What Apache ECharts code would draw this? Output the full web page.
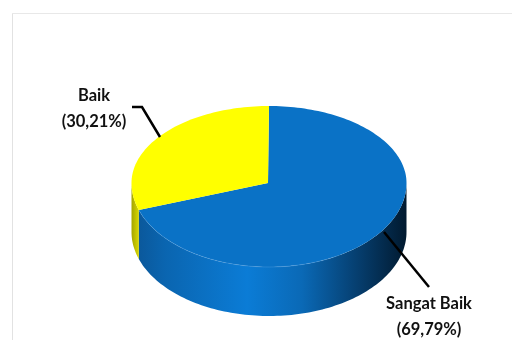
<!DOCTYPE html>
<html>
<head>
<meta charset="utf-8">
<style>html,body{margin:0;padding:0;background:#fff}#c{width:512px;height:340px}</style>
<script src="https://cdn.jsdelivr.net/npm/echarts@6/dist/echarts.min.js"></script>
</head>
<body>
<div id="c"></div>
<script>
const categories = ['Sangat Baik', 'Baik'];
const shares = [69.79, 30.21];

// Geometry of the tilted disc: the near half looks deeper than the far half
const CX = 269, CY = 183, RX = 137.5, RY_FAR = 77, RY_NEAR = 84, DEPTH = 49;
const APEX = [268, 183];
const FONT = 'Lato, "Open Sans", sans-serif';

const total = shares.reduce((a, b) => a + b, 0);
const rad = d => d * Math.PI / 180;
const rim = (deg, dy) => {
  const c = Math.cos(rad(deg));
  return [CX + RX * Math.sin(rad(deg)), CY + dy - (c > 0 ? RY_FAR : RY_NEAR) * c];
};
const arc = (from, to, dy) => {
  const pts = [];
  const n = Math.max(2, Math.ceil(Math.abs(to - from) / 1.5));
  for (let i = 0; i <= n; i++) pts.push(rim(from + (to - from) * i / n, dy));
  return pts;
};
const sideFill = stops => ({
  type: 'linear', x: 132, y: 0, x2: 406, y2: 0, global: true,
  colorStops: stops
});
const styles = [
  {
    top: '#0a72c6',
    side: sideFill([
      { offset: 0, color: '#0b5596' }, { offset: 0.12, color: '#0a65b0' },
      { offset: 0.42, color: '#0b7cd6' }, { offset: 0.62, color: '#0a69b6' },
      { offset: 0.82, color: '#063f70' }, { offset: 1, color: '#011a30' }
    ])
  },
  { top: '#ffff00', side: sideFill([{ offset: 0, color: '#a8a800' }, { offset: 0.02, color: '#cfcf00' }]) }
];
// Label anchor and leader path for each slice
const callouts = [
  { at: [429, 317], line: [[384, 232], [429, 287]] },
  { at: [94, 109], line: [[132, 107], [142, 107], [160, 137]] }
];

function sliceStart(i) {
  let sum = 0;
  for (let k = 0; k < i; k++) sum += shares[k];
  return sum / total * 360;
}

function renderSlice(params, api) {
  const i = params.dataIndex;
  const from = sliceStart(i);
  const to = from + api.value(1) / total * 360;
  const children = [];
  // Only the front half of the rim has a visible wall
  const wFrom = Math.max(from, 90), wTo = Math.min(to, 270);
  if (wTo > wFrom) {
    children.push({
      type: 'polygon',
      shape: { points: arc(wFrom, wTo, 0).concat(arc(wTo, wFrom, DEPTH)) },
      style: { fill: styles[i].side }
    });
  }
  children.push({
    type: 'polygon',
    shape: { points: [APEX].concat(arc(from, to, 0)) },
    style: { fill: styles[i].top }
  });
  if (i === 0) {
    children.push({
      type: 'polyline',
      shape: { points: arc(150, wTo, 0) },
      style: { fill: null, stroke: 'rgba(110,175,235,0.28)', lineWidth: 1 }
    });
  }
  children.push({
    type: 'polyline',
    shape: { points: callouts[i].line },
    style: { fill: null, stroke: '#000', lineWidth: 2.5 }
  });
  children.push({
    type: 'text',
    style: {
      x: callouts[i].at[0], y: callouts[i].at[1],
      text: categories[i] + '\n(' + api.value(1).toFixed(2).replace('.', ',') + '%)',
      align: 'center', verticalAlign: 'middle',
      font: 'bold 16.5px ' + FONT, lineHeight: 26, fill: '#111'
    }
  });
  return { type: 'group', children };
}

const chart = echarts.init(document.getElementById('c'), null, { renderer: 'canvas' });
chart.setOption({
  animation: false,
  backgroundColor: '#fff',
  graphic: [
    { type: 'line', shape: { x1: 12.5, y1: 14, x2: 12.5, y2: 340 }, style: { stroke: '#e2e2e2', lineWidth: 1 } },
    { type: 'line', shape: { x1: 12, y1: 13.5, x2: 512, y2: 13.5 }, style: { stroke: '#e8e8e8', lineWidth: 1 } }
  ],
  series: [{
    type: 'custom',
    coordinateSystem: 'none',
    renderItem: renderSlice,
    data: categories.map((c, i) => [i, shares[i]])
  }]
});
</script>
</body>
</html>
